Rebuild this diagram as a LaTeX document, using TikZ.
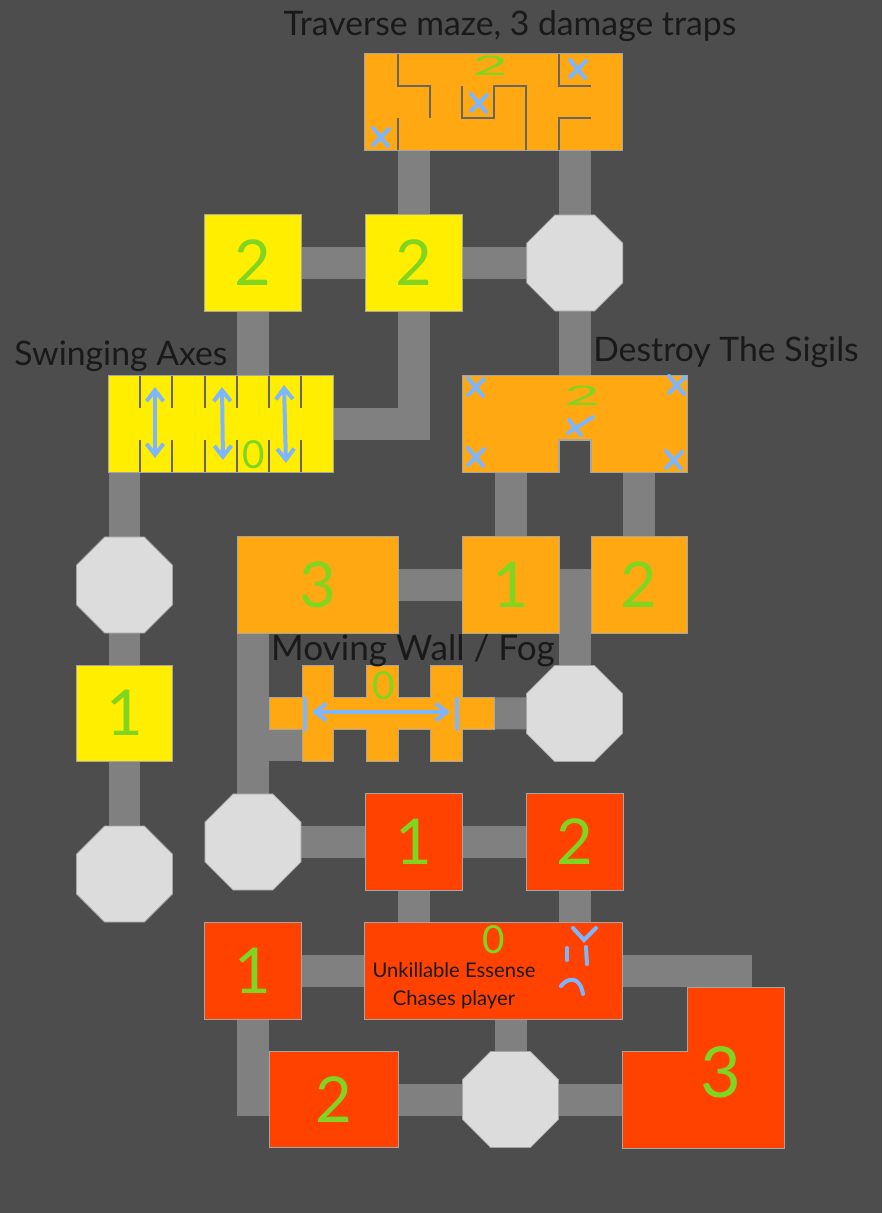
\documentclass[tikz,border=0pt]{standalone}
\usepackage{fontspec}
\setmainfont{Lato}
\usepackage{xcolor}
\usetikzlibrary{positioning, arrows.meta, shapes.geometric, backgrounds}
\definecolor{floorgray}{HTML}{4D4D4D}
\definecolor{corrgray}{HTML}{808080}
\definecolor{edgegray}{HTML}{A6A6A6}
\definecolor{octgray}{HTML}{DCDCDC}
\definecolor{easyroom}{HTML}{FFEE00}
\definecolor{midroom}{HTML}{FFA812}
\definecolor{hardroom}{HTML}{FF4200}
\definecolor{scrawlgreen}{HTML}{80D520}
\definecolor{scrawlblue}{HTML}{7DB6FF}

\begin{document}
\begin{tikzpicture}[
        x=0.02cm, y=-0.02cm,
        room/.style={draw=edgegray, line width=0.015cm, fill=#1, minimum width=1.93cm, minimum height=1.93cm, inner sep=0pt, outer sep=0pt, text=scrawlgreen, font=\fontsize{36}{36}\selectfont},
        room/.default=midroom,
        shaped/.style={draw=edgegray, line width=0.015cm, fill=#1},
        octa/.style={regular polygon, regular polygon sides=8, draw=edgegray, line width=0.015cm, fill=octgray, minimum size=2.08cm, inner sep=0pt, outer sep=0pt},
        corr/.style={draw=corrgray, line width=0.64cm},
        wallline/.style={draw=black!60, line width=0.03cm},
        digit/.style={text=scrawlgreen, inner sep=0pt, font=\fontsize{#1}{#1}\selectfont},
        digit/.default=22,
        flatdigit/.style={digit, xscale=1.6, yscale=0.7, transform shape},
        scrawl/.style={draw=scrawlblue, line width=0.08cm, line cap=round},
        swing/.style={scrawl, {Straight Barb[length=2.2mm, width=3.4mm]}-{Straight Barb[length=2.2mm, width=3.4mm]}},
        title/.style={text=black!90, inner sep=0pt, font=\fontsize{19.2}{19.2}\selectfont},
    ]
    % Top: maze and the first junction
    \node[room=midroom, minimum width=5.15cm] (maze) at (493.5,102) {};
    \node[room=easyroom] (y2b) at (414,263) {2};
    \node[room=easyroom, left=1.29cm of y2b] (y2a) {2};
    \node[octa, right=1.29cm of y2b] (oct1) {};

    % Second row
    \node[room=easyroom, minimum width=4.5cm] (axes) at (220.5,424) {};
    \node[room=midroom, minimum width=4.5cm] (sigils) at (574.5,424) {};
    \fill[floorgray] (559,441) rectangle (591,473);
    \draw[wallline, draw=edgegray] (559,473) |- (591,440) -- (591,473);

    % Left column
    \node[octa] (oct2) at (124.5,585) {};
    \node[room=easyroom, below=0.64cm of oct2] (y1) {1};
    \node[octa, below=1.29cm of y1] (oct5) {};

    % Middle orange rooms
    \node[room=midroom, minimum width=3.22cm] (r3) at (317.5,585) {3};
    \node[room=midroom, right=1.29cm of r3] (o1) {1};
    \node[room=midroom, right=0.64cm of o1] (o2) {2};
    \node[octa] (oct3) at (574.5,713.5) {};

    % Moving wall room
    \draw[shaped=midroom] (269,697) -- (302,697) -- (302,665) -- (333,665) -- (333,697) -- (366,697) -- (366,665) -- (398,665) -- (398,697) -- (430,697) -- (430,665) -- (462,665) -- (462,697) -- (494,697) -- (494,729) -- (462,729) -- (462,761) -- (430,761) -- (430,729) -- (398,729) -- (398,761) -- (366,761) -- (366,729) -- (333,729) -- (333,761) -- (302,761) -- (302,729) -- (269,729) -- cycle;
    \coordinate (wallroom) at (381,713);
    \coordinate (wallfoot) at (318,745);

    % Red rooms
    \node[octa] (oct4) at (253,842) {};
    \node[room=hardroom, right=1.29cm of oct4] (f1) {1};
    \node[room=hardroom, right=1.29cm of f1] (f2) {2};
    \node[room=hardroom] (f3) at (253,971) {1};
    \node[room=hardroom, minimum width=5.15cm] (boss) at (493.5,971) {};
    \node[room=hardroom, minimum width=2.58cm] (f4) at (333.5,1099.5) {2};
    \node[octa] (oct6) at (510.5,1099.5) {};
    \draw[shaped=hardroom] (622,1051) -- (687,1051) -- (687,987) -- (784,987) -- (784,1148) -- (622,1148) -- cycle;
    \node[digit=40] (f5) at (721,1072) {3};
    \coordinate (f5door) at (623,1099.5);
    \coordinate (bossdoor) at (752,971);

    % Corridors and floor
    \begin{scope}[on background layer]
        \fill[floorgray] (0,0) rectangle (882,1213);
        \draw[corr] (maze.south -| y2b) -- (y2b);
        \draw[corr] (maze.south -| oct1) -- (oct1);
        \draw[corr] (y2a) -- (y2b);
        \draw[corr] (y2b) -- (oct1);
        \draw[corr] (y2a) -- (y2a |- axes);
        \draw[corr] (y2b) |- (axes);
        \draw[corr] (oct1) -- (oct1 |- sigils);
        \draw[corr] (axes -| oct2) -- (oct2);
        \draw[corr] (oct2) -- (y1);
        \draw[corr] (y1) -- (oct5);
        \draw[corr] (sigils -| o1) -- (o1);
        \draw[corr] (sigils -| o2) -- (o2);
        \draw[corr] (r3) -- (o1);
        \draw[corr] (o1) -| (oct3);
        \draw[corr] (oct3) -- (wallroom);
        \draw[corr] (r3 -| oct4) -- (oct4);
        \draw[corr] (oct4 |- wallfoot) -- (wallfoot);
        \draw[corr] (oct4) -- (f1);
        \draw[corr] (f1) -- (f2);
        \draw[corr] (f1) -- (f1 |- boss);
        \draw[corr] (f2) -- (f2 |- boss);
        \draw[corr] (f3) -- (boss);
        \draw[corr] (f3) |- (f4);
        \draw[corr] (f4) -- (oct6);
        \draw[corr] (oct6) -- (oct6 |- boss);
        \draw[corr] (oct6) -- (f5door);
        \draw[corr] (boss) -- (bossdoor);
    \end{scope}

    % Maze walls
    \draw[wallline] (398,54) |- (430,86) -- (430,118);
    \draw[wallline] (398,118) -- (398,150);
    \draw[wallline] (462,86) |- (494,118) -- (494,86) -| (526,150);
    \draw[wallline] (559,54) |- (591,86);
    \draw[wallline] (591,118) -| (559,150);

    % Axe slots
    \foreach \x in {140,172,205,237,269,301} {
        \draw[wallline] (\x,376) -- (\x,408);
        \draw[wallline] (\x,440) -- (\x,472);
    }

    % Blue scrawls
    \foreach \x/\y in {479/103,578/69,381/137,476/387,677/385,476/457,674/460} {
        \draw[scrawl] (\x-8,\y-9) -- (\x+7,\y+9);
        \draw[scrawl] (\x+8,\y-8) -- (\x-8,\y+8);
    }
    \draw[scrawl] (569,420) -- (581,435);
    \draw[scrawl] (593,417) -- (568,433);
    \draw[swing] (155,387) -- (155,458);
    \draw[swing] (222,387) -- (223,460);
    \draw[swing] (284,385) -- (286,463);
    \draw[swing] (312,712) -- (450,712);
    \draw[scrawl] (305,699) -- (305,729);
    \draw[scrawl] (457,699) -- (457,729);
    \draw[scrawl] (573,928) -- (584,940) -- (596,928);
    \draw[scrawl] (586,947) -- (587,964);
    \draw[scrawl] (567,948) -- (567,960);
    \draw[scrawl] (561,986) .. controls (568,977) and (580,976) .. (583,994);

    % Small digits
    \node[flatdigit] (mazenum) at (490,66) {2};
    \node[digit] (axesnum) at (254,455) {0};
    \node[flatdigit] (sigilnum) at (582,396) {2};
    \node[digit] (wallnum) at (384,686) {0};
    \node[digit] (bossnum) at (494,940) {0};

    % Labels
    \node[title] (mazelabel) at (510,26) {Traverse maze, 3 damage traps};
    \node[title] (axeslabel) at (121,356) {Swinging Axes};
    \node[title] (sigillabel) at (726,352) {Destroy The Sigils};
    \node[title, font=\fontsize{20}{20}\selectfont] (walllabel) at (413,651) {Moving Wall / Fog};
    \node[title, font=\fontsize{11.5}{16}\selectfont, align=center] (bosslabel) at (454,986) {Unkillable Essense\\Chases player};
\end{tikzpicture}
\end{document}
